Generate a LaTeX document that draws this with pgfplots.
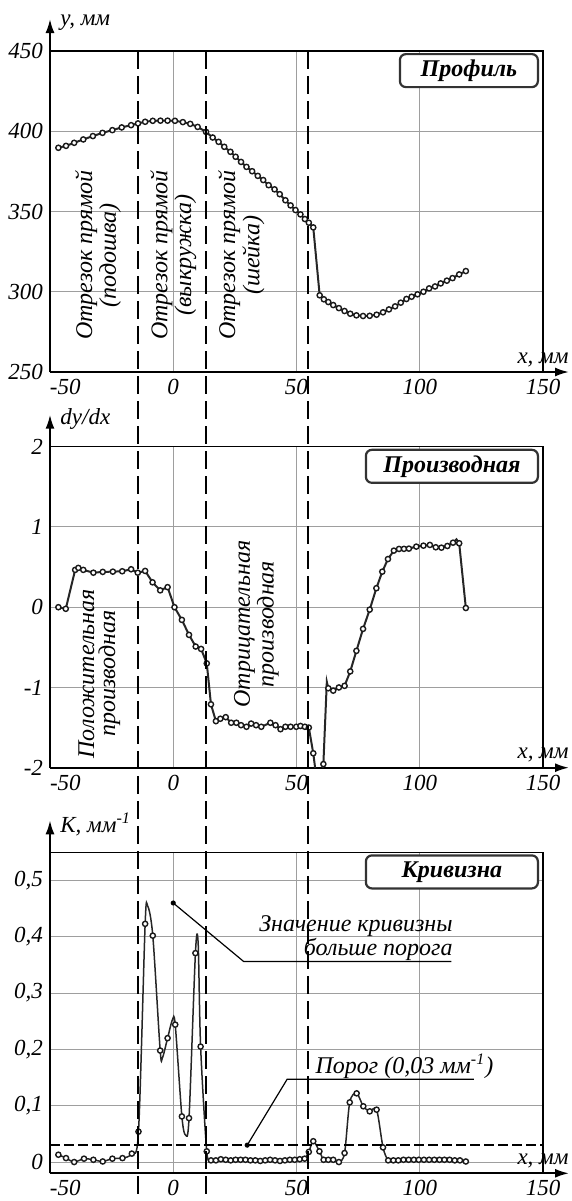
\documentclass[border=0pt]{standalone}
\usepackage{fontspec}
\setmainfont{Liberation Serif}
\usepackage{pgfplots}
\pgfplotsset{compat=1.18}
\usetikzlibrary{arrows.meta}

\newcommand{\lbl}{\itshape\fontsize{11.5}{12}\selectfont}
\pgfplotsset{
  panel/.style={
    scale only axis, width=246.5pt, height=160.5pt,
    xmin=-50, xmax=150, xtick={-50,0,50,100,150},
    xticklabels={\makebox[0pt][l]{-50},0,50,100,150},
    axis lines=left,
    axis line style={line width=1pt, -{Latex[length=7pt,width=4.5pt]}},
    x axis line style={shorten >=-13pt},
    y axis line style={shorten >=-16pt},
    grid=major, grid style={black!38, line width=0.5pt},
    major tick length=0pt,
    tick label style={font=\lbl},
    clip mode=individual,
    xlabel={x, мм},
    every axis x label/.style={at={(rel axis cs:1,0)}, anchor=south east,
      xshift=13pt, yshift=2.5pt, inner sep=0pt, font=\lbl},
    every axis y label/.style={at={(rel axis cs:0,1)}, anchor=west,
      xshift=5pt, yshift=14pt, inner sep=0pt, font=\lbl},
  },
  curve/.style={black!85, line width=1pt},
  dots/.style={only marks, mark=*, mark size=1.3pt,
    mark options={fill=white, draw=black!90, line width=0.7pt}},
}
\tikzset{
  title/.style={draw=black!80, line width=1.1pt, rounded corners=3pt, fill=white,
    minimum height=16.5pt, inner sep=1pt, anchor=north east, xshift=-2pt, yshift=-1pt,
    font=\bfseries\itshape\fontsize{12}{12}\selectfont},
  note/.style={font=\itshape\fontsize{12}{10.5}\selectfont, align=center},
  border/.style={black, line width=0.6pt},
}

\begin{document}
\begin{tikzpicture}

% ---- profile
\begin{axis}[panel, ymin=250, ymax=450, ytick={250,300,350,400,450},
  yticklabels={250,300,350,400,450}, ylabel={y, мм}]
\addplot[curve] coordinates {
(-46.6,389.7)(-43.5,390.9)(-40.2,392.8)(-36.5,394.9)(-32.6,397)(-28.7,399)(-24.7,400.7)
(-20.9,402.4)(-17.1,403.8)(-14.3,404.9)(-11.4,405.9)(-8.3,406.5)(-5.2,406.6)(-2.3,406.6)
(0.7,406.5)(3.9,405.7)(6.9,404.6)(9.9,402.7)(13.3,399.6)(16,396.1)(18.4,393.4)(20.7,390.3)
(23.2,387.2)(25.3,384.1)(27.5,380.9)(29.7,377.8)(32,375.1)(34.3,372.2)(36.5,369.6)(38.7,366.4)
(41.1,363.8)(43.2,360.8)(45.5,357)(47.6,353.8)(49.6,350.9)(51.6,348.2)(53.4,345.3)(55,343)
(56.8,340.1)(59.4,297.8)(61.1,295.3)(62.9,293.6)(64.9,291.7)(67.2,289.8)(69.5,288)(71.8,286.3)
(74.3,285.3)(77,284.9)(79.7,285)(82.5,285.7)(85.1,287.2)(87.5,289)(90,290.9)(92.3,293.2)
(94.6,295.5)(96.7,296.9)(99.1,298.4)(101.5,300)(103.8,302.1)(106.2,303.3)(108.5,305.2)
(111,306.9)(113.3,308.5)(116,310.8)(118.7,312.9)};
\addplot[dots] coordinates {
(-46.6,389.7)(-43.5,390.9)(-40.2,392.8)(-36.5,394.9)(-32.6,397)(-28.7,399)(-24.7,400.7)
(-20.9,402.4)(-17.1,403.8)(-14.3,404.9)(-11.4,405.9)(-8.3,406.5)(-5.2,406.6)(-2.3,406.6)
(0.7,406.5)(3.9,405.7)(6.9,404.6)(9.9,402.7)(13.3,399.6)(16,396.1)(18.4,393.4)(20.7,390.3)
(23.2,387.2)(25.3,384.1)(27.5,380.9)(29.7,377.8)(32,375.1)(34.3,372.2)(36.5,369.6)(38.7,366.4)
(41.1,363.8)(43.2,360.8)(45.5,357)(47.6,353.8)(49.6,350.9)(51.6,348.2)(53.4,345.3)(55,343)
(56.8,340.1)(59.4,297.8)(61.1,295.3)(62.9,293.6)(64.9,291.7)(67.2,289.8)(69.5,288)(71.8,286.3)
(74.3,285.3)(77,284.9)(79.7,285)(82.5,285.7)(85.1,287.2)(87.5,289)(90,290.9)(92.3,293.2)
(94.6,295.5)(96.7,296.9)(99.1,298.4)(101.5,300)(103.8,302.1)(106.2,303.3)(108.5,305.2)
(111,306.9)(113.3,308.5)(116,310.8)(118.7,312.9)};
\draw[border] (rel axis cs:0,1) -- (rel axis cs:1,1) -- (rel axis cs:1,0);
\node[title, minimum width=69pt] at (rel axis cs:1,1) {Профиль};
\node[note, rotate=90] at (axis cs:-30.5,322.8) {Отрезок прямой\\(подошва)};
\node[note, rotate=90] at (axis cs:0,322.8) {Отрезок прямой\\(выкружка)};
\node[note, rotate=90] at (axis cs:27.6,322.8) {Отрезок прямой\\(шейка)};
\coordinate (d1) at (axis cs:-14.3,450);
\coordinate (d2) at (axis cs:13.3,450);
\coordinate (d3) at (axis cs:54.8,450);
\end{axis}

% ---- derivative
\begin{axis}[panel, at={(0,-197.85pt)}, ymin=-2, ymax=2, ytick={-2,-1,0,1,2},
  yticklabels={-2,-1,0,1,2}, ylabel={dy/dx}]
\addplot[curve] coordinates {
(-46.6,0)(-43.6,-0.02)(-39.8,0.465)(-38.5,0.49)(-36.5,0.465)(-32.4,0.43)(-28.6,0.44)
(-24.5,0.443)(-20.7,0.448)(-17.1,0.473)(-14.4,0.43)(-11.4,0.452)(-8.4,0.31)(-5.3,0.21)
(-2.3,0.25)(0.5,0)(3.5,-0.158)(6.4,-0.345)(9.1,-0.49)(11.3,-0.52)(13.6,-0.70)(15.3,-1.21)
(17.3,-1.42)(19.1,-1.39)(21.3,-1.37)(23.5,-1.44)(25.6,-1.44)(27.5,-1.47)(29.7,-1.49)
(31.6,-1.45)(33.6,-1.47)(35.7,-1.49)(39.4,-1.44)(41.5,-1.47)(43.5,-1.52)(45.5,-1.49)
(47.6,-1.49)(49.9,-1.49)(51.6,-1.48)(53.4,-1.49)(55,-1.5)(56.8,-1.82)(58.8,-2.3)(60.9,-1.955)
(62.3,-0.93)(62.9,-1.01)(64.9,-1.04)(67.2,-1.0)(69.5,-0.98)(71.8,-0.80)(74.3,-0.544)(77,-0.27)
(79.7,-0.03)(82.4,0.237)(84.8,0.443)(87.1,0.60)(89.5,0.705)(91.6,0.726)(93.6,0.727)(95.6,0.73)
(98.6,0.755)(101.5,0.767)(104.1,0.776)(106.5,0.747)(108.8,0.742)(111.2,0.763)(113.5,0.804)
(114.9,0.846)(116,0.797)(118.7,-0.01)};
\addplot[dots] coordinates {
(-46.6,0)(-43.6,-0.02)(-39.8,0.465)(-38.5,0.49)(-36.5,0.465)(-32.4,0.43)(-28.6,0.44)
(-24.5,0.443)(-20.7,0.448)(-17.1,0.473)(-14.4,0.43)(-11.4,0.452)(-8.4,0.31)(-5.3,0.21)
(-2.3,0.25)(0.5,0)(3.5,-0.158)(6.4,-0.345)(9.1,-0.49)(11.3,-0.52)(13.6,-0.70)(15.3,-1.21)
(17.3,-1.42)(19.1,-1.39)(21.3,-1.37)(23.5,-1.44)(25.6,-1.44)(27.5,-1.47)(29.7,-1.49)
(31.6,-1.45)(33.6,-1.47)(35.7,-1.49)(39.4,-1.44)(41.5,-1.47)(43.5,-1.52)(45.5,-1.49)
(47.6,-1.49)(49.9,-1.49)(51.6,-1.48)(53.4,-1.49)(55,-1.5)(56.8,-1.82)(60.9,-1.955)
(62.9,-1.01)(64.9,-1.04)(67.2,-1.0)(69.5,-0.98)(71.8,-0.80)(74.3,-0.544)(77,-0.27)
(79.7,-0.03)(82.4,0.237)(84.8,0.443)(87.1,0.60)(89.5,0.705)(91.6,0.726)(93.6,0.727)(95.6,0.73)
(98.6,0.755)(101.5,0.767)(104.1,0.776)(106.5,0.747)(108.8,0.742)(111.2,0.763)(113.5,0.804)
(116,0.797)(118.7,-0.01)};
\draw[border] (rel axis cs:0,1) -- (rel axis cs:1,1) -- (rel axis cs:1,0);
\node[title, minimum width=86pt] at (rel axis cs:1,1) {Производная};
\node[note, rotate=90] at (axis cs:-30,-0.83) {Положительная\\производная};
\node[note, rotate=90] at (axis cs:33.7,-0.21) {Отрицательная\\производная};
\end{axis}

% ---- curvature
\begin{axis}[panel, at={(0,-400.65pt)}, ymin=-0.02, ymax=0.55,
  ytick={0,0.1,0.2,0.3,0.4,0.5}, yticklabels={0,{0,1},{0,2},{0,3},{0,4},{0,5}},
  ylabel={K, мм\textsuperscript{-1}}]
\addplot[black!85, line width=0.75pt, smooth, tension=0.5] coordinates {
(-46.6,0.013)(-43.5,0.007)(-40.2,0.0)(-36.2,0.006)(-32.4,0.004)(-28.6,0.001)(-24.7,0.006)
(-20.6,0.007)(-16.8,0.015)(-14.1,0.054)(-11.4,0.423)(-10.4,0.455)(-8.3,0.402)(-5.3,0.198)
(-4.4,0.185)(-2.3,0.22)(-0.3,0.253)(0.8,0.244)(3.5,0.081)(5,0.048)(6.4,0.078)(9,0.371)
(10.1,0.389)(11.1,0.205)(13.6,0.019)(15.3,0.003)(17.3,0.003)(19.3,0.005)(21.3,0.004)
(23.3,0.003)(25.3,0.004)(27.3,0.004)(29.3,0.004)(31.3,0.003)(33.3,0.003)(35.3,0.002)
(37.3,0.003)(39.3,0.004)(41.3,0.003)(43.3,0.002)(45.3,0.003)(47.3,0.004)(49.3,0.004)
(51.3,0.005)(53.3,0.006)(55,0.018)(56.8,0.037)(59.3,0.019)(61,0.004)(62.9,0.004)(64.9,0.004)
(67.2,0.0)(69.5,0.016)(71.6,0.106)(74.4,0.122)(77.1,0.099)(79.7,0.09)(82.5,0.093)(85.1,0.026)
(87.2,0.003)(89.3,0.003)(91.3,0.003)(93.4,0.004)(95.5,0.004)(97.6,0.004)(99.6,0.004)
(101.7,0.004)(103.8,0.004)(105.9,0.004)(108,0.004)(110,0.004)(112.1,0.004)(114.2,0.003)
(116.3,0.003)(118.7,0.001)};
\addplot[dots] coordinates {
(-46.6,0.013)(-43.5,0.007)(-40.2,0.0)(-36.2,0.006)(-32.4,0.004)(-28.6,0.001)(-24.7,0.006)
(-20.6,0.007)(-16.8,0.015)(-14.1,0.054)(-11.4,0.423)(-8.3,0.402)(-5.3,0.198)
(-2.3,0.22)(0.8,0.244)(3.5,0.081)(6.4,0.078)(9,0.371)
(11.1,0.205)(13.6,0.019)(15.3,0.003)(17.3,0.003)(19.3,0.005)(21.3,0.004)
(23.3,0.003)(25.3,0.004)(27.3,0.004)(29.3,0.004)(31.3,0.003)(33.3,0.003)(35.3,0.002)
(37.3,0.003)(39.3,0.004)(41.3,0.003)(43.3,0.002)(45.3,0.003)(47.3,0.004)(49.3,0.004)
(51.3,0.005)(53.3,0.006)(55,0.018)(56.8,0.037)(59.3,0.019)(61,0.004)(62.9,0.004)(64.9,0.004)
(67.2,0.0)(69.5,0.016)(71.6,0.106)(74.4,0.122)(77.1,0.099)(79.7,0.09)(82.5,0.093)(85.1,0.026)
(87.2,0.003)(89.3,0.003)(91.3,0.003)(93.4,0.004)(95.5,0.004)(97.6,0.004)(99.6,0.004)
(101.7,0.004)(103.8,0.004)(105.9,0.004)(108,0.004)(110,0.004)(112.1,0.004)(114.2,0.003)
(116.3,0.003)(118.7,0.001)};
\draw[border] (rel axis cs:0,1) -- (rel axis cs:1,1) -- (rel axis cs:1,0);
\node[title, minimum width=86pt] at (rel axis cs:1,1) {Кривизна};
% threshold
\draw[black, line width=0.7pt, dash pattern=on 5pt off 2pt] (axis cs:-50,0.03) -- (axis cs:150,0.03);
% callouts
\fill (axis cs:0,0.46) circle (1.3pt);
\draw[line width=0.6pt] (axis cs:0,0.46) -- (axis cs:28.6,0.356) -- (axis cs:112.8,0.356);
\node[anchor=south east, align=right, inner sep=0pt, font=\itshape\fontsize{12}{10}\selectfont]
  at (axis cs:113.5,0.357) {Значение кривизны\\больше порога};
\fill (axis cs:30,0.03) circle (1.3pt);
\draw[line width=0.6pt] (axis cs:30,0.03) -- (axis cs:46.2,0.147) -- (axis cs:122,0.147);
\node[anchor=south east, inner sep=0pt, font=\itshape\fontsize{12}{10}\selectfont]
  at (axis cs:130,0.148) {Порог (0,03 мм\textsuperscript{-1})};
\end{axis}

% dashed region boundaries through all panels
\foreach \c in {d1,d2,d3}
  \draw[black, line width=1pt, dash pattern=on 9pt off 3.5pt] (\c) -- (\c |- 0,-414.5pt);

\pgfresetboundingbox
\path[use as bounding box] (-25pt,-414.5pt) rectangle (261pt,186pt);
\end{tikzpicture}
\end{document}
